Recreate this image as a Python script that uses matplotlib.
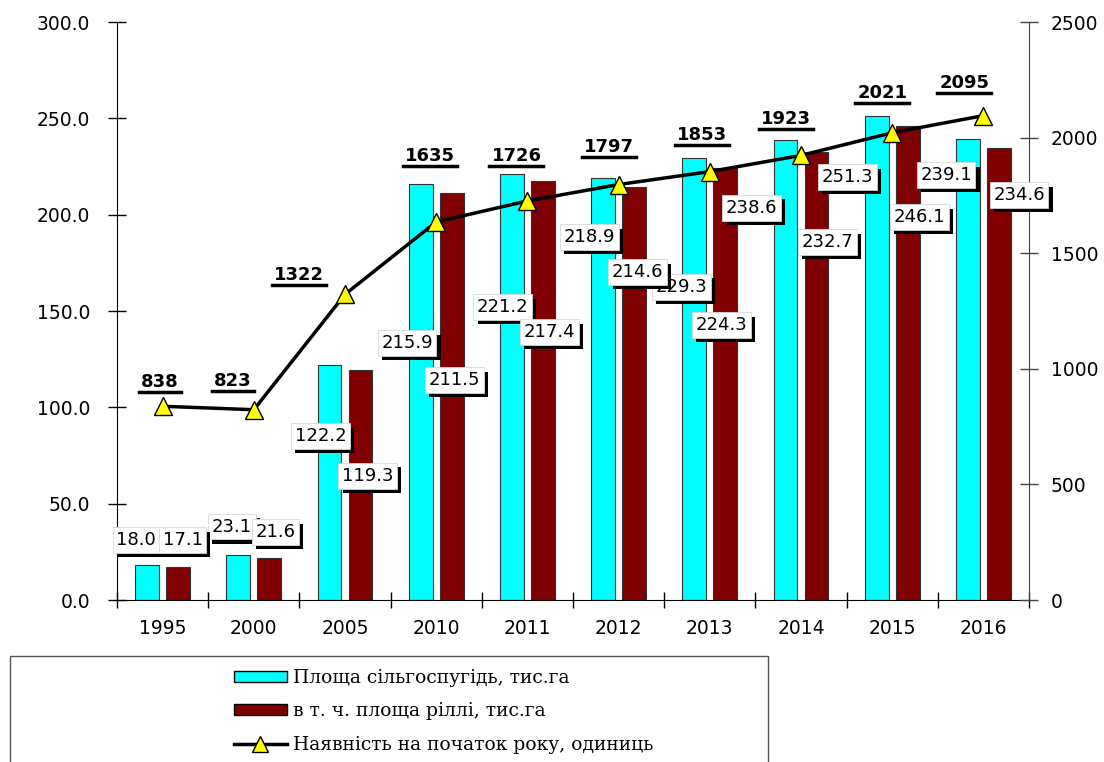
import matplotlib
matplotlib.use("Agg")
import matplotlib.pyplot as plt
import matplotlib.patheffects as pe
from matplotlib.lines import Line2D
from matplotlib.patches import Patch, Rectangle
import numpy as np

# ---- data ----
years = ["1995", "2000", "2005", "2010", "2011", "2012", "2013", "2014", "2015", "2016"]
farmland = [18.0, 23.1, 122.2, 215.9, 221.2, 218.9, 229.3, 238.6, 251.3, 239.1]
arable = [17.1, 21.6, 119.3, 211.5, 217.4, 214.6, 224.3, 232.7, 246.1, 234.6]
count = [838, 823, 1322, 1635, 1726, 1797, 1853, 1923, 2021, 2095]

series_names = ["Площа сільгоспугідь, тис.га",
                "в т. ч. площа ріллі, тис.га",
                "Наявність на початок року, одиниць"]

# label placements (category-x, left-axis y) — layout only
farm_lbl_pos = [(-0.29, 31.1), (0.76, 38.0), (1.73, 85.1), (2.68, 133.4), (3.73, 152.1),
                (4.68, 188.4), (5.69, 162.5), (6.46, 203.5), (7.51, 219.5), (8.59, 220.6)]
arab_lbl_pos = [(0.22, 31.1), (1.24, 35.3), (2.25, 64.4), (3.20, 114.2), (4.24, 139.1),
                (5.21, 170.2), (6.13, 142.7), (7.29, 185.8), (8.30, 198.8), (9.39, 210.2)]
cnt_lbl_pos = [(-0.03, 113.1), (0.77, 113.7), (1.50, 168.7), (2.93, 230.4), (3.88, 230.4),
               (4.89, 235.1), (5.91, 241.3), (6.84, 249.6), (7.89, 263.1), (8.79, 268.3)]

CYAN = "#00FFFF"
MAROON = "#800000"
font = "DejaVu Sans"

fig = plt.figure(figsize=(11.04, 7.62), dpi=100)
ax = fig.add_axes([117/1104, 162/762, (1029-117)/1104, (600-22)/762])
ax2 = ax.twinx()

x = np.arange(len(years))
w = 0.26
off = 0.17
ax.bar(x - off, farmland, w, color=CYAN, edgecolor="#333333", linewidth=0.8, zorder=2)
ax.bar(x + off, arable, w, color=MAROON, edgecolor="#333333", linewidth=0.8, zorder=2)

ax.set_xlim(-0.5, len(years) - 0.5)
ax.set_ylim(0, 300)
ax.set_yticks(np.arange(0, 301, 50))
ax.set_yticklabels([f"{v:.1f}" for v in np.arange(0, 301, 50)])
ax.set_xticks(x)
ax.set_xticklabels(years)
ax.set_xticks(np.arange(-0.5, len(years) + 0.5, 1), minor=True)

for lab in ax.get_xticklabels() + ax.get_yticklabels():
    lab.set_fontfamily(font)
    lab.set_fontsize(13.5)

ax.tick_params(axis="x", which="major", length=0, pad=14)
ax.tick_params(axis="x", which="minor", length=12, direction="inout", width=1)
ax.tick_params(axis="y", length=13, direction="inout", width=1, pad=13)

ax2.set_ylim(0, 2500)
ax2.set_yticks(np.arange(0, 2501, 500))
ax2.set_yticklabels([str(v) for v in range(0, 2501, 500)])
for lab in ax2.get_yticklabels():
    lab.set_fontfamily(font)
    lab.set_fontsize(13.5)
ax2.tick_params(axis="y", length=13, direction="inout", width=1, pad=9, color="#444444")

for a in (ax, ax2):
    a.spines["top"].set_visible(False)
ax.spines["right"].set_visible(False)
ax2.spines["left"].set_visible(False)
ax2.spines["bottom"].set_visible(False)
ax2.spines["right"].set_color("#444444")
ax.patch.set_visible(False)

ax2.plot(x, count, color="black", linewidth=2.5, marker="^", markersize=13,
         markerfacecolor="#FFFF00", markeredgecolor="black", markeredgewidth=1, zorder=3)

shadow = [pe.SimplePatchShadow(offset=(3, -3), shadow_rgbFace="black", alpha=1.0), pe.Normal()]

def box_label(val, pos):
    t = ax2.text(pos[0], pos[1] * 2500 / 300, f"{val:.1f}", ha="center", va="center",
                 fontsize=13, fontfamily=font, zorder=5,
                 bbox=dict(boxstyle="square,pad=0.2", facecolor="white", edgecolor="#d8d8d8",
                           linewidth=0.6))
    t.get_bbox_patch().set_path_effects(shadow)
    return t

for v, p in zip(farmland, farm_lbl_pos):
    box_label(v, p)
for v, p in zip(arable, arab_lbl_pos):
    box_label(v, p)

cnt_texts = []
for v, p in zip(count, cnt_lbl_pos):
    t = ax2.text(p[0], p[1] * 2500 / 300, str(v), ha="center", va="center",
                 fontsize=13, fontweight="bold", fontfamily=font, zorder=6)
    cnt_texts.append(t)

# legend frame and entries
fig.add_artist(Rectangle((10/1104, -0.05), (768-10)/1104, (762-656)/762 + 0.05,
                         transform=fig.transFigure, facecolor="white",
                         edgecolor="#555555", linewidth=1))
handles = [Patch(facecolor=CYAN, edgecolor="black", linewidth=1),
           Patch(facecolor=MAROON, edgecolor="black", linewidth=1),
           Line2D([], [], color="black", linewidth=2.5, marker="^", markersize=12,
                  markerfacecolor="#FFFF00", markeredgecolor="black")]
leg = fig.legend(handles, series_names, loc="upper left",
                 bbox_to_anchor=(234/1104, 1 - 669/762), frameon=False,
                 prop={"family": "DejaVu Serif", "size": 13.5},
                 handlelength=2.8, handleheight=0.55, labelspacing=0.82, handletextpad=0.35,
                 borderaxespad=0, borderpad=0)

# underline count labels
fig.canvas.draw()
inv = fig.transFigure.inverted()
for t in cnt_texts:
    bb = t.get_window_extent()
    (x0, y0) = inv.transform((bb.x0 - 2, bb.y0 - 1))
    (x1, _) = inv.transform((bb.x1 + 2, bb.y0 - 1))
    fig.add_artist(Line2D([x0, x1], [y0, y0], transform=fig.transFigure,
                          color="black", linewidth=2.5, zorder=7))

fig.savefig("out.png", dpi=100)
